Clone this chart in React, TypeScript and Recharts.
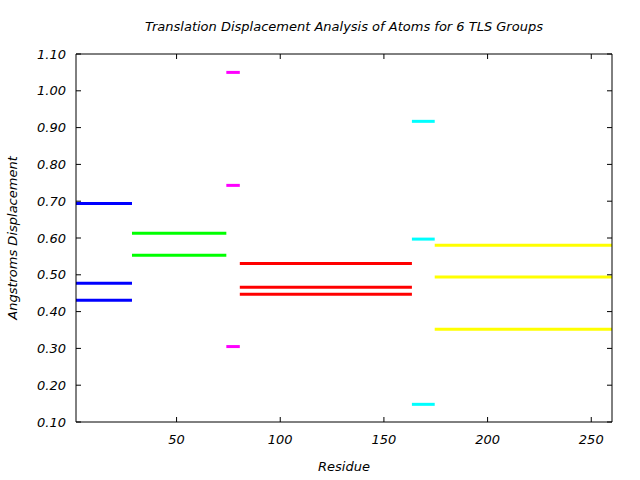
import { LineChart, Line, XAxis, YAxis } from 'recharts';

// residue ranges of the 6 TLS groups
const groupStarts = [1.5, 28.5, 74, 80.5, 163.5, 174.5];
const groupEnds = [28.5, 74, 80.5, 163.5, 174.5, 260];
const groupColors = ['#0000ff', '#00ff00', '#ff00ff', '#ff0000', '#00ffff', '#ffff00'];

// translation displacement (Angstroms) per group
const blueValues = [0.694, 0.477, 0.431];
const greenValues = [0.613, 0.553];
const magentaValues = [1.05, 0.743, 0.305];
const redValues = [0.531, 0.466, 0.447];
const cyanValues = [0.917, 0.597, 0.148];
const yellowValues = [0.58, 0.494, 0.352];

const groupValues = [blueValues, greenValues, magentaValues, redValues, cyanValues, yellowValues];

const xRange = [1.5, 260];
const yRange = [0.1, 1.1];
const xTicks = [50, 100, 150, 200, 250];
const yTicks = [0.1, 0.2, 0.3, 0.4, 0.5, 0.6, 0.7, 0.8, 0.9, 1.0, 1.1];

const font = { fontFamily: '"DejaVu Sans", sans-serif', fontStyle: 'italic', fontSize: 13, fill: '#000' };

const segments = groupValues.flatMap((values, g) =>
  values.map((v, i) => ({
    key: `g${g}-${i}`,
    color: groupColors[g],
    data: [
      { x: groupStarts[g], y: v },
      { x: groupEnds[g], y: v },
    ],
  }))
);

// invisible series so the mirrored top/right axes get drawn
const frameData = [
  { x: xRange[0], y: yRange[0] },
  { x: xRange[1], y: yRange[1] },
];

const labelStyle = {
  fontFamily: font.fontFamily,
  fontStyle: 'italic' as const,
  fontSize: 13,
  lineHeight: '16px',
  whiteSpace: 'nowrap' as const,
};

export default function App() {
  return (
    <div style={{ position: 'absolute', left: 0, top: 0, width: 640, height: 480, background: '#fff' }}>
      <LineChart width={640} height={480} margin={{ top: 44, right: 18, bottom: 0, left: 0 }}>
        <XAxis
          xAxisId="bottom"
          dataKey="x"
          type="number"
          domain={xRange}
          ticks={xTicks}
          allowDuplicatedCategory={false}
          height={58}
          tickSize={-5}
          tickMargin={18}
          tick={font}
          stroke="#000"
        />
        <XAxis
          xAxisId="top"
          orientation="top"
          dataKey="x"
          type="number"
          domain={xRange}
          ticks={xTicks}
          allowDuplicatedCategory={false}
          height={10}
          tickSize={-5}
          tickFormatter={() => ''}
          stroke="#000"
        />
        <YAxis
          yAxisId="left"
          type="number"
          domain={yRange}
          ticks={yTicks}
          width={76}
          tickSize={-5}
          tickMargin={15}
          tick={font}
          tickFormatter={(v: number) => v.toFixed(2)}
          stroke="#000"
        />
        <YAxis
          yAxisId="right"
          orientation="right"
          type="number"
          domain={yRange}
          ticks={yTicks}
          width={10}
          tickSize={-5}
          tickFormatter={() => ''}
          stroke="#000"
        />
        <Line
          xAxisId="top"
          yAxisId="right"
          data={frameData}
          dataKey="y"
          stroke="none"
          dot={false}
          activeDot={false}
          isAnimationActive={false}
        />
        {segments.map(s => (
          <Line
            key={s.key}
            xAxisId="bottom"
            yAxisId="left"
            data={s.data}
            dataKey="y"
            type="linear"
            stroke={s.color}
            strokeWidth={3}
            dot={false}
            activeDot={false}
            isAnimationActive={false}
          />
        ))}
      </LineChart>
      <div style={{ ...labelStyle, position: 'absolute', left: 0, width: 688, top: 19, textAlign: 'center' }}>
        Translation Displacement Analysis of Atoms for 6 TLS Groups
      </div>
      <div style={{ ...labelStyle, position: 'absolute', left: 0, width: 688, top: 459, textAlign: 'center' }}>
        Residue
      </div>
      <div style={{ position: 'absolute', left: 13, top: 238, width: 0, height: 0 }}>
        <div style={{ ...labelStyle, position: 'absolute', left: -100, top: -8, width: 200, textAlign: 'center', transform: 'rotate(-90deg)' }}>
          Angstroms Displacement
        </div>
      </div>
    </div>
  );
}
